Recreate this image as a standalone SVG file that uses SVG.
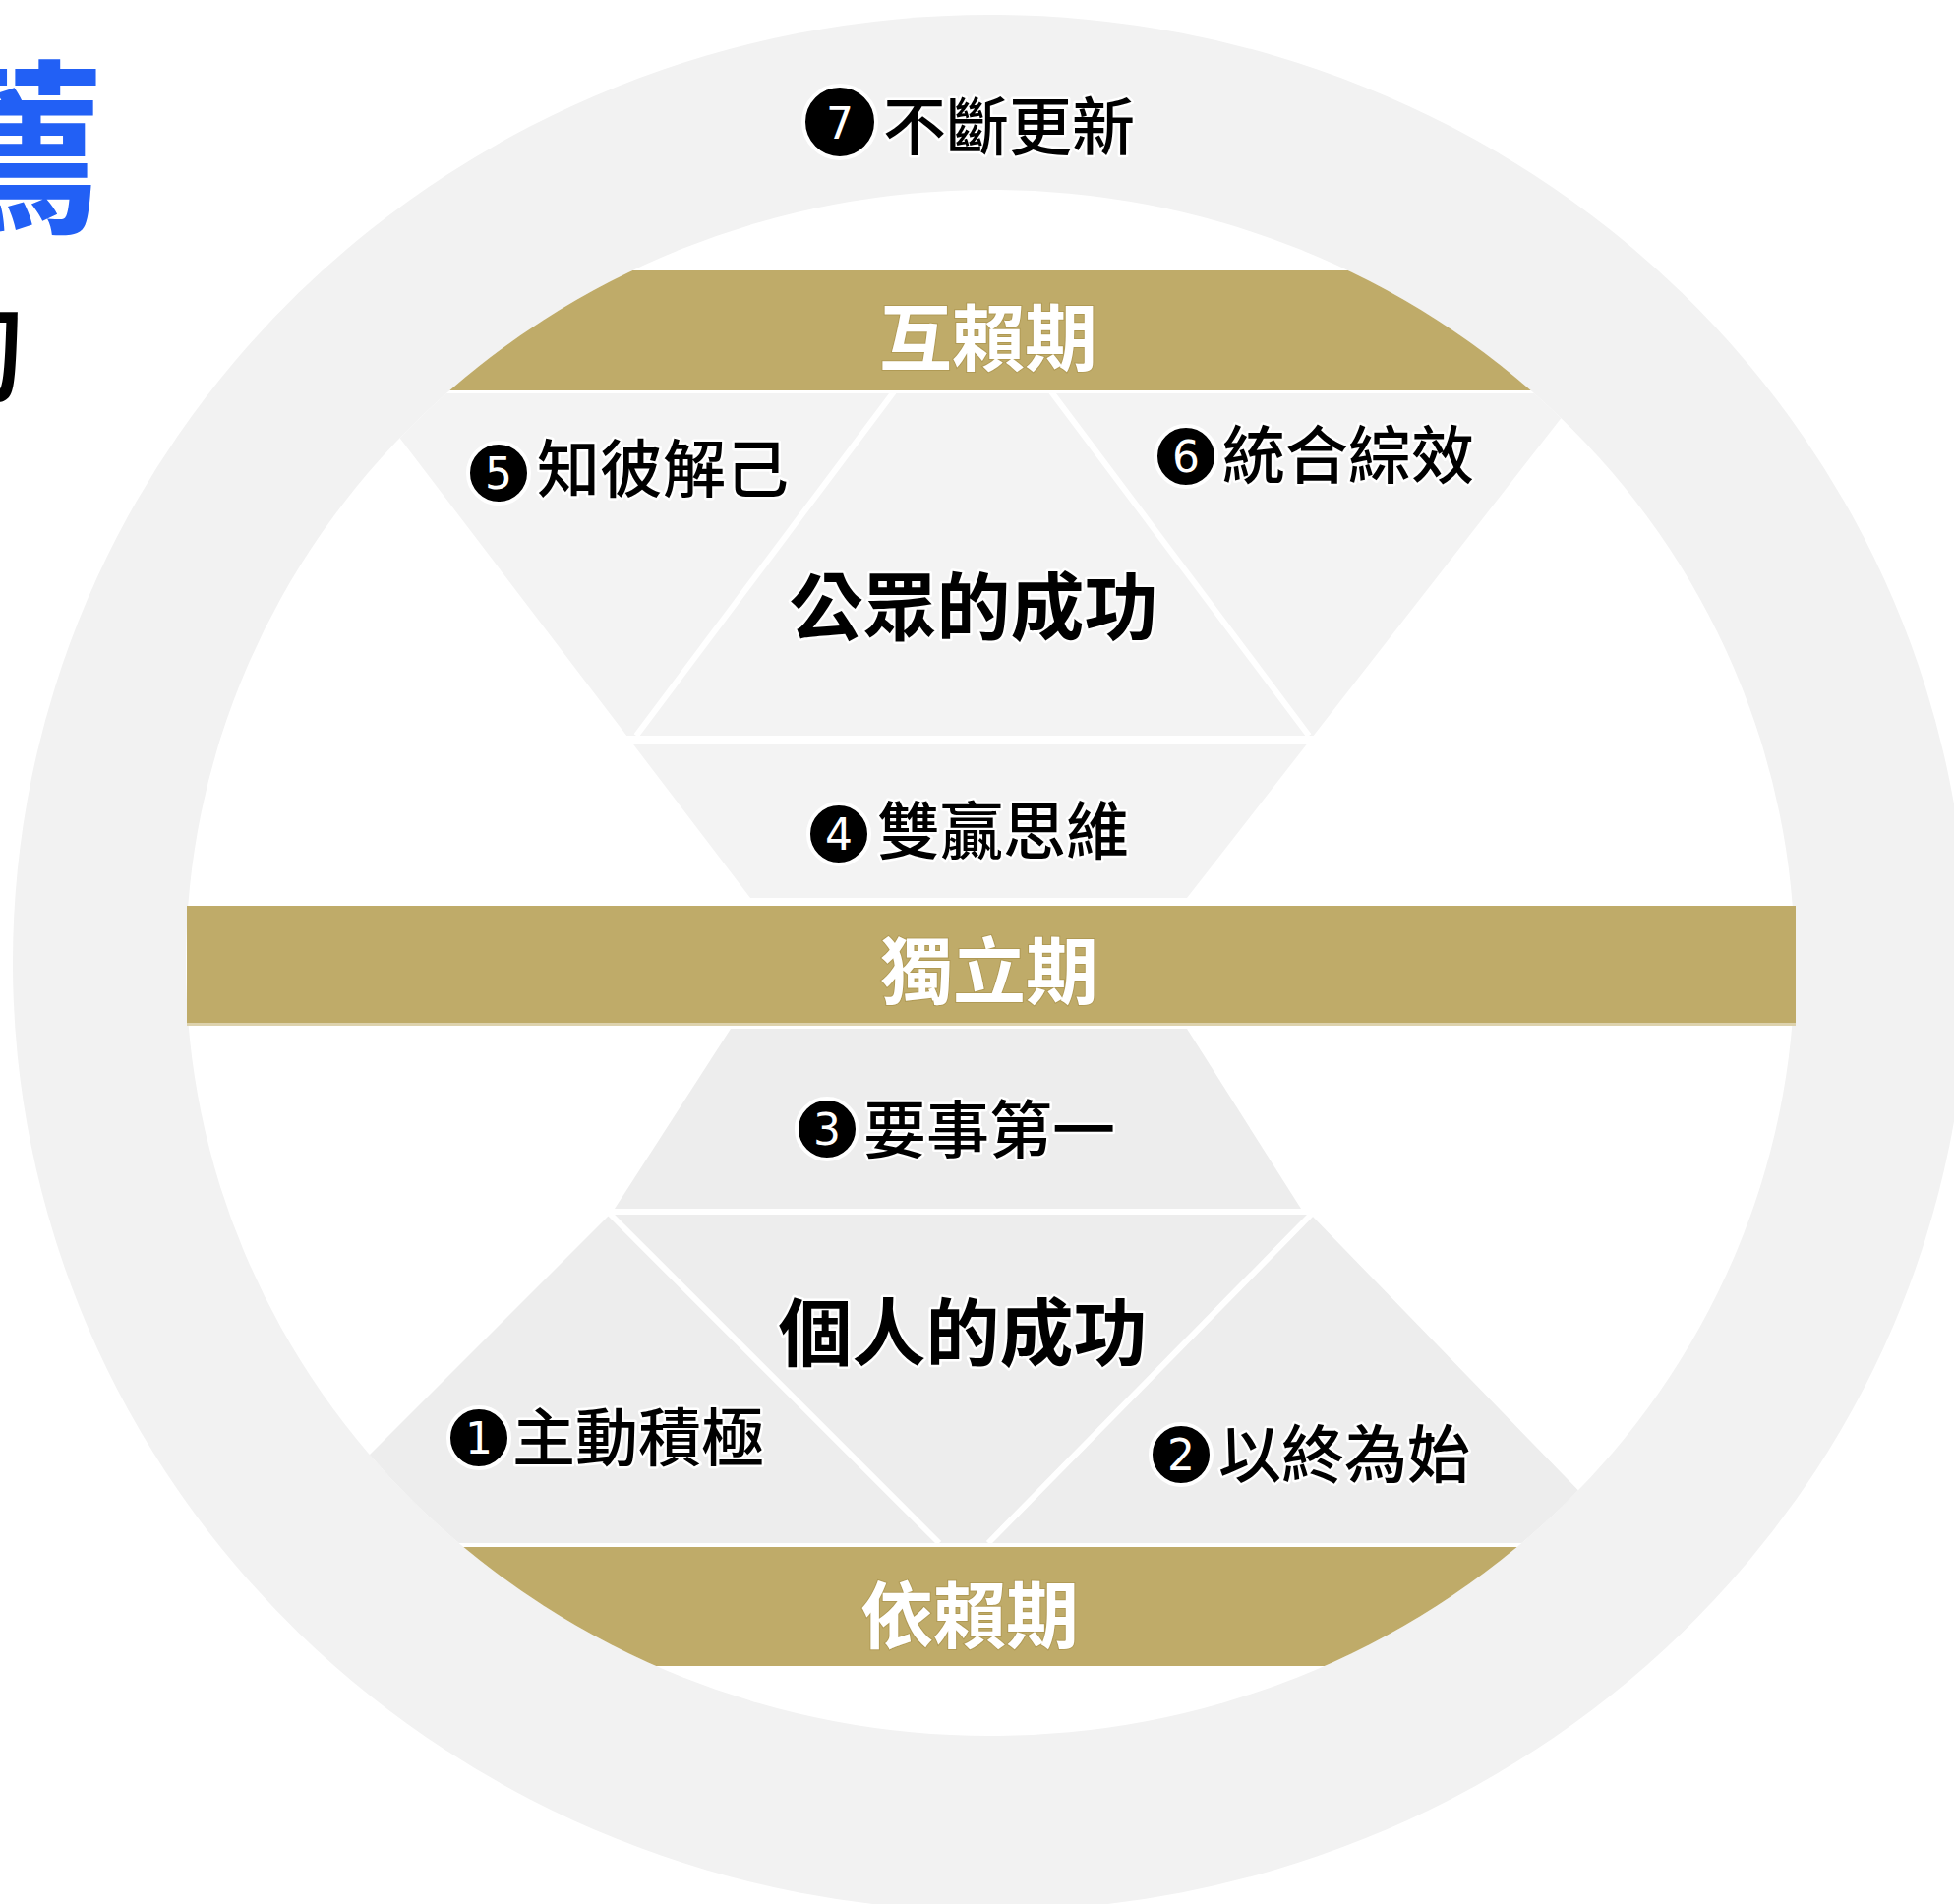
<svg xmlns="http://www.w3.org/2000/svg" width="1987" height="1936" viewBox="0 0 1987 1936">
  <defs>
    <clipPath id="inner">
      <ellipse cx="1007" cy="979" rx="818" ry="786"/>
    </clipPath>
    <style>
      .band { fill: #bfab69; }
      .up { fill: #f3f3f3; }
      .low { fill: #ededed; }
      .div { stroke: #ffffff; stroke-width: 6; fill: none; }
      .lbl { font-family: "Noto Sans CJK TC", "Noto Sans CJK SC", sans-serif; font-size: 64px; font-weight: 500; fill: #000; stroke: #fff; stroke-width: 5; paint-order: stroke; stroke-linejoin: round; }
      .big { font-family: "Noto Sans CJK TC", "Noto Sans CJK SC", sans-serif; font-size: 75px; font-weight: 700; fill: #000; stroke: #fff; stroke-width: 5; paint-order: stroke; stroke-linejoin: round; text-anchor: middle; }
      .stage { font-family: "Noto Sans CJK TC", "Noto Sans CJK SC", sans-serif; font-size: 74px; font-weight: 700; fill: #fff; stroke: #b09a55; stroke-width: 2; paint-order: stroke; text-anchor: middle; }
      .num { fill: #000; stroke: #fff; stroke-width: 4; }
      .numt { font-family: "DejaVu Sans", "Liberation Sans", sans-serif; font-size: 44px; fill: #fff; text-anchor: middle; }
    </style>
  </defs>

  <rect x="0" y="0" width="1987" height="1936" fill="#ffffff"/>

  <!-- partial heading text at the left edge -->
  <g id="heading">
    <text x="107" y="222" font-family="Noto Sans CJK TC, Noto Sans CJK SC, sans-serif" font-size="190" font-weight="700" fill="#2260f5" text-anchor="end">薦</text>
    <text x="28" y="401" font-family="Noto Sans CJK TC, Noto Sans CJK SC, sans-serif" font-size="112" font-weight="500" fill="#000" text-anchor="end">刀</text>
  </g>

  <!-- ring -->
  <g id="ring">
    <ellipse cx="1007" cy="979" rx="994" ry="964" fill="#f2f2f2"/>
    <ellipse cx="1007" cy="979" rx="818" ry="786" fill="#ffffff"/>
  </g>

  <!-- regions -->
  <g id="regions" clip-path="url(#inner)">
    <polygon id="upper-region" class="up" points="372,400 1607,400 1207,913 763,913"/>
    <polygon id="third-region" class="low" points="743,1046 1207,1046 1323,1229 625,1229"/>
    <polygon id="lower-region" class="low" points="620,1235 1333,1235 1657,1569 286,1569"/>
  </g>

  <!-- dividers -->
  <g id="connectors">
    <rect x="600" y="748" width="800" height="8" fill="#ffffff"/>
    <line class="div" x1="910" y1="397" x2="647" y2="748"/>
    <line class="div" x1="1068" y1="397" x2="1331" y2="748"/>
    <rect x="560" y="1229" width="840" height="6" fill="#ffffff"/>
    <line class="div" x1="619" y1="1233" x2="955" y2="1569"/>
    <line class="div" x1="1335" y1="1233" x2="1005" y2="1569"/>
  </g>

  <!-- stage bands -->
  <g id="bands">
    <rect id="band-top" class="band" x="150" y="275" width="1700" height="122" clip-path="url(#inner)"/>
    <rect id="band-mid" class="band" x="190" y="921" width="1636" height="119"/>
    <rect x="190" y="1040" width="1636" height="3" fill="#ddd2ad"/>
    <rect id="band-bottom" class="band" x="150" y="1573" width="1700" height="121" clip-path="url(#inner)"/>
  </g>

  <g id="stage-interdependence"><text class="stage" x="1005" y="371">互賴期</text></g>
  <g id="stage-independence"><text class="stage" x="1006" y="1015">獨立期</text></g>
  <g id="stage-dependence"><text class="stage" x="986" y="1670">依賴期</text></g>

  <g id="public-victory"><text class="big" x="990" y="645">公眾的成功</text></g>
  <g id="private-victory"><text class="big" x="979" y="1383">個人的成功</text></g>

  <g id="habit7">
    <circle class="num" cx="854" cy="124" r="37"/>
    <text class="numt" x="854" y="141" font-size="48">7</text>
    <text class="lbl" x="898" y="152" font-size="65">不斷更新</text>
  </g>
  <g id="habit5">
    <circle class="num" cx="507" cy="481" r="31"/>
    <text class="numt" x="507" y="497">5</text>
    <text class="lbl" x="546" y="500">知彼解己</text>
  </g>
  <g id="habit6">
    <circle class="num" cx="1206" cy="464" r="31"/>
    <text class="numt" x="1206" y="480">6</text>
    <text class="lbl" x="1243" y="486">統合綜效</text>
  </g>
  <g id="habit4">
    <circle class="num" cx="853" cy="848" r="31"/>
    <text class="numt" x="853" y="864">4</text>
    <text class="lbl" x="892" y="868">雙贏思維</text>
  </g>
  <g id="habit3">
    <circle class="num" cx="841" cy="1148" r="31"/>
    <text class="numt" x="841" y="1164">3</text>
    <text class="lbl" x="878" y="1172">要事第一</text>
  </g>
  <g id="habit1">
    <circle class="num" cx="487" cy="1462" r="31"/>
    <text class="numt" x="487" y="1478">1</text>
    <text class="lbl" x="521" y="1485">主動積極</text>
  </g>
  <g id="habit2">
    <circle class="num" cx="1201" cy="1479" r="31"/>
    <text class="numt" x="1201" y="1495">2</text>
    <text class="lbl" x="1239" y="1502">以終為始</text>
  </g>
</svg>
